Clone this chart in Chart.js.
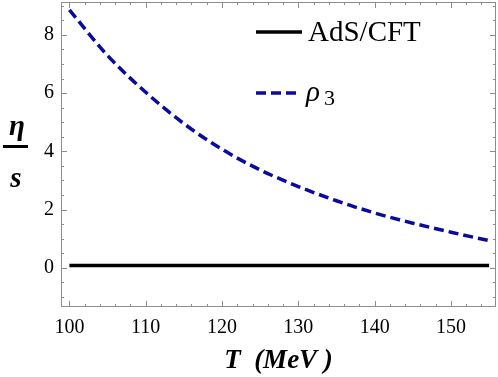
<!DOCTYPE html>
<html>
<head>
<meta charset="utf-8">
<script src="https://cdn.jsdelivr.net/npm/chart.js@4/dist/chart.umd.min.js"></script>
<style>
  html, body { margin: 0; padding: 0; background: #fff; }
</style>
</head>
<body>
<canvas id="chart" width="498" height="377"></canvas>
<script>
// values
const temps = [100, 105, 110, 115, 120, 125, 130, 135, 140, 145, 150, 155];
const rho3 = [8.86, 7.29, 6.03, 4.95, 4.07, 3.36, 2.79, 2.3, 1.88, 1.53, 1.22, 0.93];
const adsTemps = [100, 155];
const adsCft = [0.08, 0.08];
const xTicks = [100, 110, 120, 130, 140, 150];
const yTicks = [0, 2, 4, 6, 8];

const serif = '"Liberation Serif", "DejaVu Serif", serif';

const toPoints = (xs, ys) => xs.map((x, i) => ({ x: x, y: ys[i] }));

// frame with inward ticks on all four sides, plus the eta/s label and legend
const framePlugin = {
    id: 'frame',
    afterDatasetsDraw(chart) {
        const { ctx, chartArea: a, scales: { x, y } } = chart;
        ctx.save();
        ctx.strokeStyle = '#8c8c8c';
        ctx.lineWidth = 1;
        ctx.strokeRect(a.left + 0.5, a.top + 0.5, a.right - a.left - 1, a.bottom - a.top - 1);

        ctx.beginPath();
        for (let v = 100; v <= 155; v += 2) {
            const px = Math.round(x.getPixelForValue(v)) + 0.5;
            const len = xTicks.includes(v) ? 6 : 3;
            ctx.moveTo(px, a.bottom); ctx.lineTo(px, a.bottom - len);
            ctx.moveTo(px, a.top); ctx.lineTo(px, a.top + len);
        }
        for (let v = -1; v <= 9; v += 0.5) {
            const py = Math.round(y.getPixelForValue(v)) + 0.5;
            const len = yTicks.includes(v) ? 6 : 3;
            ctx.moveTo(a.left, py); ctx.lineTo(a.left + len, py);
            ctx.moveTo(a.right, py); ctx.lineTo(a.right - len, py);
        }
        ctx.stroke();
        ctx.restore();
    },
    afterDraw(chart) {
        const { ctx } = chart;
        ctx.save();
        ctx.fillStyle = '#000';
        ctx.textAlign = 'center';
        ctx.textBaseline = 'alphabetic';
        ctx.font = 'bold italic 29px ' + serif;
        ctx.fillText('η', 17, 135);
        ctx.fillRect(3, 145, 25, 3);
        ctx.fillText('s', 16, 187);

        const rows = [32, 93];
        chart.data.datasets.forEach((ds, i) => {
            ctx.beginPath();
            ctx.strokeStyle = ds.borderColor;
            ctx.lineWidth = ds.borderWidth;
            ctx.setLineDash(ds.borderDash || []);
            ctx.moveTo(256, rows[i]);
            ctx.lineTo(i === 0 ? 302 : 297, rows[i]);
            ctx.stroke();
        });
        ctx.textAlign = 'left';
        ctx.font = '29px ' + serif;
        ctx.fillText('AdS/CFT', 308, 41);
        ctx.font = 'italic 29px ' + serif;
        ctx.fillText('ρ', 306, 101);
        ctx.font = '22px ' + serif;
        ctx.fillText('3', 324, 105);
        ctx.restore();
    }
};

new Chart(document.getElementById('chart').getContext('2d'), {
    type: 'line',
    data: {
        datasets: [{
            label: 'AdS/CFT',
            data: toPoints(adsTemps, adsCft),
            borderColor: '#000000',
            borderWidth: 3.5,
            pointRadius: 0,
            fill: false
        }, {
            label: 'ρ3',
            data: toPoints(temps, rho3),
            borderColor: '#0a0aa0',
            borderWidth: 3.5,
            borderDash: [10, 5],
            pointRadius: 0,
            cubicInterpolationMode: 'monotone',
            fill: false
        }]
    },
    options: {
        responsive: false,
        animation: false,
        layout: { padding: { top: 2, right: 2, left: 0, bottom: 0 } },
        plugins: {
            legend: { display: false },
            tooltip: { enabled: false }
        },
        scales: {
            x: {
                type: 'linear',
                min: 98.9,
                max: 155.9,
                afterBuildTicks: s => { s.ticks = xTicks.map(v => ({ value: v })); },
                afterFit: s => { s.height = 70; s.paddingLeft = 0; s.paddingRight = 0; },
                grid: { display: false, drawTicks: false },
                border: { display: false },
                ticks: {
                    color: '#000',
                    padding: 9,
                    maxRotation: 0,
                    font: { family: serif, size: 20 }
                },
                title: {
                    display: true,
                    text: 'T  (MeV )',
                    color: '#000',
                    padding: { top: 0, bottom: 0 },
                    font: { family: serif, size: 27, style: 'italic', weight: 'bold' }
                }
            },
            y: {
                min: -1.35,
                max: 9.13,
                afterBuildTicks: s => { s.ticks = yTicks.map(v => ({ value: v })); },
                afterFit: s => { s.width = 61; s.paddingTop = 0; s.paddingBottom = 0; },
                grid: { display: false, drawTicks: false },
                border: { display: false },
                ticks: {
                    color: '#000',
                    padding: 7,
                    font: { family: serif, size: 20 }
                }
            }
        }
    },
    plugins: [framePlugin]
});
</script>
</body>
</html>
